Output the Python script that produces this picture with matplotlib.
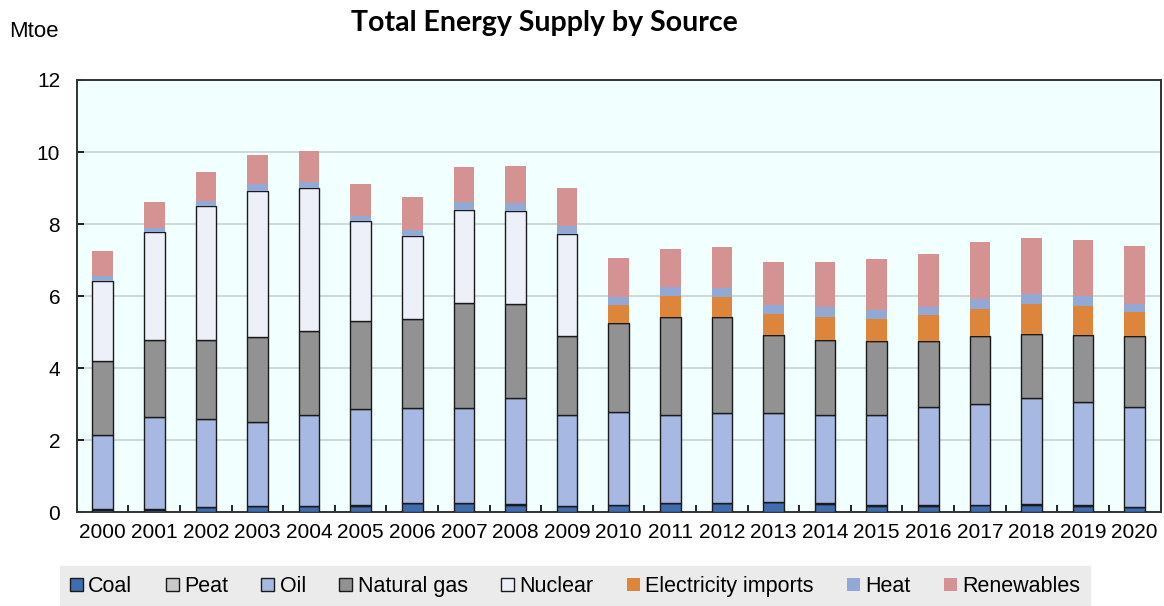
import numpy as np
import matplotlib
matplotlib.use("Agg")
import matplotlib.pyplot as plt

years = [str(y) for y in range(2000, 2021)]

coal = [0.06, 0.06, 0.13, 0.16, 0.16, 0.18, 0.24, 0.24, 0.20, 0.16,
        0.19, 0.24, 0.24, 0.27, 0.22, 0.17, 0.17, 0.19, 0.21, 0.18, 0.13]
peat = [0.02] * 21
oil = [2.06, 2.55, 2.44, 2.32, 2.51, 2.65, 2.64, 2.63, 2.96, 2.51,
       2.56, 2.44, 2.48, 2.45, 2.46, 2.50, 2.73, 2.78, 2.95, 2.87, 2.78]
natural_gas = [2.06, 2.15, 2.18, 2.36, 2.35, 2.47, 2.46, 2.91, 2.59, 2.20,
               2.49, 2.72, 2.67, 2.18, 2.08, 2.06, 1.83, 1.91, 1.77, 1.86, 1.96]
nuclear = [2.23, 3.00, 3.73, 4.07, 3.96, 2.75, 2.30, 2.59, 2.60, 2.84,
           0, 0, 0, 0, 0, 0, 0, 0, 0, 0, 0]
elec_imports = [0, 0, 0, 0, 0, 0, 0, 0, 0, 0,
                0.50, 0.58, 0.56, 0.59, 0.65, 0.61, 0.71, 0.75, 0.82, 0.80, 0.68]
heat = [0.14, 0.12, 0.15, 0.17, 0.17, 0.15, 0.17, 0.21, 0.20, 0.21,
        0.21, 0.25, 0.24, 0.23, 0.26, 0.24, 0.24, 0.28, 0.28, 0.28, 0.20]
renewables = [0.68, 0.72, 0.79, 0.81, 0.85, 0.90, 0.92, 0.97, 1.03, 1.07,
              1.08, 1.06, 1.16, 1.20, 1.26, 1.43, 1.46, 1.57, 1.55, 1.56, 1.63]

series = [
    ("Coal", coal, "#3F6DB0", True),
    ("Peat", peat, "#C8C8C8", True),
    ("Oil", oil, "#A7B8E2", True),
    ("Natural gas", natural_gas, "#929292", True),
    ("Nuclear", nuclear, "#EDF0F8", True),
    ("Electricity imports", elec_imports, "#DD853B", False),
    ("Heat", heat, "#93A9D5", False),
    ("Renewables", renewables, "#D49293", False),
]

plt.rcParams['font.family'] = ['Liberation Sans', 'DejaVu Sans']

fig = plt.figure(figsize=(11.64, 6.06), dpi=100)
ax = fig.add_axes([0.066, 0.155, 0.931, 0.713])
ax.set_facecolor("#F2FFFF")

x = np.arange(len(years))
bottom = np.zeros(len(years))
handles = []
for name, vals, col, edged in series:
    vals = np.array(vals)
    if edged:
        b = ax.bar(x, vals, 0.4, bottom=bottom, color=col, edgecolor="#1a1a1a",
                   linewidth=1.0, label=name, zorder=3)
    else:
        b = ax.bar(x, vals, 0.4, bottom=bottom, color=col, linewidth=0,
                   label=name, zorder=3)
    handles.append(b)
    bottom += vals

ax.set_xlim(-0.5, len(years) - 0.5)
ax.set_ylim(0, 12)
ax.set_yticks(range(0, 13, 2))
ax.set_xticks(x)
ax.set_xticklabels(years)
ax.set_xticks(x[:-1] + 0.5, minor=True)
ax.tick_params(axis="x", which="major", length=0, labelsize=15, pad=8)
ax.tick_params(axis="x", which="minor", direction="in", length=5, width=1.2)
ax.tick_params(axis="y", direction="in", length=5, width=1.2, labelsize=15, pad=12)
ax.grid(axis="y", color="#C5D3D3", linewidth=1.2, zorder=0)
for s in ax.spines.values():
    s.set_color("#333333")
    s.set_linewidth(1.4)

fig.text(0.468, 0.962, "Total Energy Supply by Source", ha="center", va="center",
         fontsize=20.5, fontweight="bold", family=["Lato", "DejaVu Sans"])
fig.text(0.008, 0.948, "Mtoe", ha="left", va="center", fontsize=16)

leg = fig.legend(handles=handles, loc="center", bbox_to_anchor=(0.494, 0.032), ncol=8,
                 fontsize=15.5, frameon=True, fancybox=False, handlelength=0.6,
                 handleheight=0.6, handletextpad=0.25, columnspacing=1.55,
                 borderpad=0.45)
leg.get_frame().set_facecolor("#EBEBEB")
leg.get_frame().set_edgecolor("#EBEBEB")
leg.get_frame().set_alpha(1)

fig.savefig("out.png", dpi=100)
